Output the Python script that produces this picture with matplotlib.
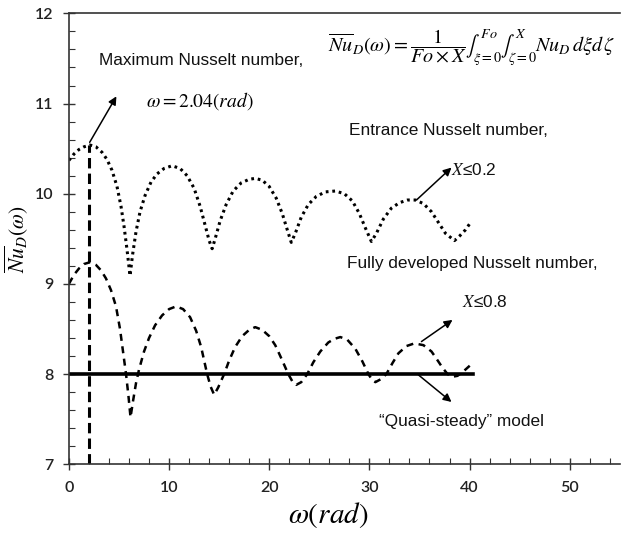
import matplotlib
matplotlib.use("Agg")
import matplotlib.pyplot as plt
from matplotlib.ticker import MultipleLocator

plt.rcParams['mathtext.fontset'] = 'stix'
plt.rcParams['font.family'] = ['Liberation Sans', 'DejaVu Sans']

# entrance Nusselt number, X<=0.2 (dotted)
w_ent = [0, 0.5, 1, 1.5, 2.1, 2.7, 3.3, 3.8, 4.3, 4.8, 5.2, 5.5, 5.8, 6.1, 6.35, 6.7, 7.1, 7.6,
         8.2, 8.8, 9.5, 10.3, 11.1, 11.8, 12.5, 13.1, 13.6, 14.0, 14.3, 14.6, 15.1, 15.7, 16.4,
         17.2, 18.0, 18.6, 19.3, 20.0, 20.7, 21.3, 21.8, 22.2, 22.6, 23.2, 23.9, 24.7, 25.6,
         26.6, 27.5, 28.3, 29.0, 29.6, 30.2, 30.7, 31.4, 32.2, 33.0, 33.8, 34.6, 35.4, 36.2,
         36.9, 37.6, 38.5, 39.0, 39.6, 40.1]
nu_ent = [10.37, 10.44, 10.49, 10.52, 10.54, 10.52, 10.46, 10.38, 10.26, 10.08, 9.86, 9.64,
          9.38, 9.09, 9.32, 9.58, 9.8, 9.98, 10.13, 10.22, 10.28, 10.31, 10.28, 10.2, 10.06,
          9.86, 9.65, 9.48, 9.39, 9.5, 9.7, 9.88, 10.03, 10.12, 10.16, 10.17, 10.15, 10.08,
          9.95, 9.78, 9.6, 9.46, 9.56, 9.74, 9.88, 9.97, 10.02, 10.03, 10.0, 9.92, 9.78, 9.62,
          9.47, 9.56, 9.72, 9.84, 9.9, 9.93, 9.93, 9.89, 9.8, 9.68, 9.56, 9.48, 9.53, 9.6, 9.68]

# fully developed Nusselt number, X<=0.8 (dashed)
w_fd = [0, 0.5, 1, 1.5, 2.1, 2.7, 3.2, 3.7, 4.2, 4.7, 5.1, 5.4, 5.7, 5.95, 6.15, 6.4, 6.7, 7.0,
        7.5, 8.0, 8.6, 9.3, 10.0, 10.7, 11.4, 12.1, 12.7, 13.2, 13.5, 13.8, 14.15, 14.5, 14.9,
        15.5, 16.0, 16.6, 17.3, 18.0, 18.6, 19.3, 20.0, 20.6, 21.1, 21.5, 21.9, 22.3, 22.7,
        23.2, 23.8, 24.4, 25.1, 25.9, 26.5, 27.1, 27.8, 28.6, 29.3, 29.9, 30.3, 30.6, 31.1,
        31.7, 32.3, 32.9, 33.7, 34.5, 35.4, 36.2, 36.7, 37.3, 37.8, 38.3, 38.8, 39.4, 40.1]
nu_fd = [9.0, 9.1, 9.17, 9.22, 9.24, 9.21, 9.15, 9.06, 8.93, 8.75, 8.5, 8.25, 8.0, 7.75, 7.52,
         7.7, 7.9, 8.05, 8.25, 8.4, 8.54, 8.65, 8.72, 8.75, 8.72, 8.63, 8.48, 8.3, 8.15, 8.0,
         7.86, 7.77, 7.85, 8.0, 8.15, 8.3, 8.42, 8.49, 8.52, 8.49, 8.42, 8.32, 8.2, 8.1, 8.0,
         7.92, 7.88, 7.91, 8.0, 8.13, 8.25, 8.35, 8.39, 8.41, 8.38, 8.28, 8.14, 8.0, 7.93, 7.91,
         7.94, 8.0, 8.12, 8.23, 8.31, 8.34, 8.32, 8.25, 8.17, 8.07, 8.0, 7.97, 7.98, 8.03, 8.1]

# quasi-steady model
w_qs = [0, 40.3]
nu_qs = [8, 8]

w_max = 2.04
nu_max = 10.54

fig = plt.figure(figsize=(6.21, 5.36), dpi=100)
ax = fig.add_axes([0.111, 0.134, 0.887, 0.841])

ax.plot(w_qs, nu_qs, 'k-', lw=2.6)
ax.plot(w_fd, nu_fd, color='k', lw=1.8, linestyle=(0, (2.8, 2.2)))
ax.plot(w_ent, nu_ent, color='k', lw=2.2, linestyle=(0, (0.9, 1.25)))
ax.plot([w_max, w_max], [7, nu_max], color='k', lw=2.2, linestyle=(0, (3.4, 1.7)))

ax.set_xlim(0, 55)
ax.set_ylim(7, 12)
ax.xaxis.set_major_locator(MultipleLocator(10))
ax.xaxis.set_minor_locator(MultipleLocator(2))
ax.yaxis.set_major_locator(MultipleLocator(1))
ax.yaxis.set_minor_locator(MultipleLocator(0.2))
ax.tick_params(which='major', direction='inout', length=8, width=1, color='#333',
               labelsize=11.5, labelcolor='#222', pad=4)
ax.tick_params(which='minor', direction='in', length=4, width=0.8, color='#333')
ax.tick_params(axis='x', which='major', pad=8)
ax.tick_params(axis='y', which='major', pad=7)
for lab in ax.get_xticklabels() + ax.get_yticklabels():
    lab.set_family(['Lato', 'DejaVu Sans'])
    lab.set_fontweight('semibold')

ax.spines['right'].set_visible(False)
for s in ['left', 'bottom', 'top']:
    ax.spines[s].set_linewidth(1.2)
    ax.spines[s].set_color('#333')

ax.set_xlabel(r'$\omega\left(rad\right)$', fontsize=21)
ax.xaxis.set_label_coords(0.47, -0.08)
ax.set_ylabel(r'$\overline{Nu}_D(\omega)$', fontsize=15.5)
ax.yaxis.set_label_coords(-0.068, 0.5)

arrow = dict(arrowstyle='-|>', color='k', lw=1.1, mutation_scale=12, shrinkA=0, shrinkB=0)
ax.annotate('', xy=(4.74, 11.08), xytext=(2.07, 10.57), arrowprops=arrow)
ax.annotate('', xy=(38.2, 10.29), xytext=(34.7, 9.93), arrowprops=arrow)
ax.annotate('', xy=(38.3, 8.60), xytext=(35.2, 8.36), arrowprops=arrow)
ax.annotate('', xy=(38.2, 7.69), xytext=(34.9, 7.99), arrowprops=arrow)

txt = dict(fontsize=12.4, color='#111', va='center')
ax.text(3.0, 11.48, 'Maximum Nusselt number,', ha='left', **txt)
ax.text(7.7, 11.03, r'$\omega = 2.04(rad)$', ha='left', fontsize=14, va='center')
ax.text(37.9, 10.7, 'Entrance Nusselt number,', ha='center', **txt)
ax.text(40.4, 10.26, r'$X$≤0.2', ha='center', **txt)
ax.text(40.3, 9.23, 'Fully developed Nusselt number,', ha='center', **txt)
ax.text(41.5, 8.80, r'$X$≤0.8', ha='center', **txt)
ax.text(39.2, 7.47, '\u201cQuasi-steady\u201d model', ha='center', **txt)
ax.text(54.6, 11.62,
        r'$\overline{Nu}_D(\omega) = \dfrac{1}{Fo\times X}\int_{\xi=0}^{Fo}\int_{\zeta=0}^{X} Nu_D\,d\xi d\,\zeta$',
        ha='right', va='center', fontsize=14.5)

fig.savefig('out.png', dpi=100)
